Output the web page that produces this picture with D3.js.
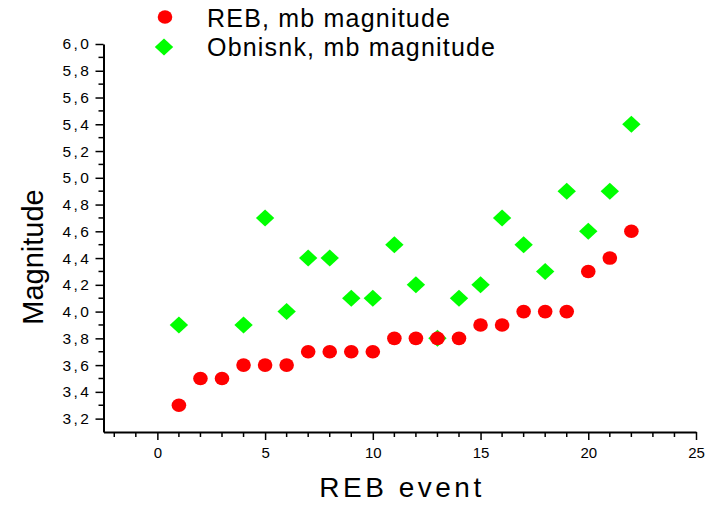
<!DOCTYPE html>
<html lang="en">
<head>
    <meta charset="UTF-8">
    <title>REB vs Obninsk magnitude</title>
    <script src="https://d3js.org/d3.v7.min.js"></script>
    <style>
        body { margin: 0; background: #fff; }
        svg text { font-family: Arial, "Liberation Sans", sans-serif; fill: #000; }
    </style>
</head>
<body>
    <svg id="chart" width="707" height="505"></svg>
    <script>
        // data
        const events = [1, 2, 3, 4, 5, 6, 7, 8, 9, 10, 11, 12, 13, 14, 15, 16, 17, 18, 19, 20, 21, 22];
        const rebMb = [3.3, 3.5, 3.5, 3.6, 3.6, 3.6, 3.7, 3.7, 3.7, 3.7, 3.8, 3.8, 3.8, 3.8, 3.9, 3.9, 4.0, 4.0, 4.0, 4.3, 4.4, 4.6];
        const obninskMb = [3.9, null, null, 3.9, 4.7, 4.0, 4.4, 4.4, 4.1, 4.1, 4.5, 4.2, 3.8, 4.1, 4.2, 4.7, 4.5, 4.3, 4.9, 4.6, 4.9, 5.4];
        const xTicks = [0, 5, 10, 15, 20, 25];
        const yTicks = [3.2, 3.4, 3.6, 3.8, 4.0, 4.2, 4.4, 4.6, 4.8, 5.0, 5.2, 5.4, 5.6, 5.8, 6.0];
        const seriesNames = ['REB, mb magnitude', 'Obnisnk, mb magnitude'];

        const svg = d3.select('#chart');
        const x = d3.scaleLinear().domain([-2.5, 25]).range([103.5, 696]);
        const y = d3.scaleLinear().domain([3.1, 6.0]).range([432, 44]);
        const fmt = d => d.toFixed(1).replace('.', ',');

        // minor ticks
        const xMinor = d3.range(-2, 26).filter(v => v % 5 !== 0);
        const yMinor = d3.range(31, 61).map(v => v / 10).filter(v => Math.round(v * 10) % 2 === 1 && v > 3.1);

        const xAxis = svg.append('g').attr('transform', 'translate(0,432)');
        xAxis.call(d3.axisBottom(x).tickValues(xTicks).tickSize(8).tickSizeOuter(0).tickPadding(7).tickFormat(d3.format('d')));
        xAxis.append('g').selectAll('line').data(xMinor).enter().append('line')
            .attr('x1', d => x(d)).attr('x2', d => x(d)).attr('y1', 0).attr('y2', 5)
            .attr('stroke', '#000').attr('stroke-width', 1.5);

        const yAxis = svg.append('g').attr('transform', 'translate(103.5,0)');
        yAxis.call(d3.axisLeft(y).tickValues(yTicks).tickSize(8).tickSizeOuter(0).tickPadding(9).tickFormat(fmt));
        yAxis.append('g').selectAll('line').data(yMinor).enter().append('line')
            .attr('y1', d => y(d)).attr('y2', d => y(d)).attr('x1', 0).attr('x2', -5)
            .attr('stroke', '#000').attr('stroke-width', 1.5);

        svg.selectAll('.domain').attr('stroke', '#000').attr('stroke-width', 2);
        svg.selectAll('.tick line').attr('stroke', '#000').attr('stroke-width', 1.5);
        xAxis.selectAll('.tick text').attr('font-size', 15);
        yAxis.selectAll('.tick text').attr('font-size', 15.5).attr('letter-spacing', 2.5).attr('dx', 5);

        // axis titles
        svg.append('text').attr('x', 402).attr('y', 497).attr('text-anchor', 'middle')
            .attr('font-size', 28).attr('letter-spacing', 3.5).text('REB event');
        svg.append('text').attr('transform', 'translate(43,257) rotate(-90)').attr('text-anchor', 'middle')
            .attr('font-size', 29).text('Magnitude');

        // series
        const diamond = (cx, cy) => `M${cx},${cy - 8.5}L${cx + 9.2},${cy}L${cx},${cy + 8.5}L${cx - 9.2},${cy}Z`;

        svg.append('g').selectAll('path').data(events.filter((e, i) => obninskMb[i] != null)).enter().append('path')
            .attr('d', e => diamond(x(e), y(obninskMb[events.indexOf(e)])))
            .attr('fill', '#00ff00');

        svg.append('g').selectAll('ellipse').data(events).enter().append('ellipse')
            .attr('cx', (e) => x(e)).attr('cy', (e, i) => y(rebMb[i]))
            .attr('rx', 7.3).attr('ry', 6.8)
            .attr('fill', '#ff0000');

        // legend
        const legend = svg.append('g');
        legend.append('ellipse').attr('cx', 165).attr('cy', 17).attr('rx', 7.3).attr('ry', 6.8).attr('fill', '#ff0000');
        legend.append('path').attr('d', diamond(164, 47)).attr('fill', '#00ff00');
        legend.selectAll('text').data(seriesNames).enter().append('text')
            .attr('x', 207).attr('y', (d, i) => 27 + i * 29)
            .attr('font-size', 25).attr('letter-spacing', 1.2).text(d => d);
    </script>
</body>
</html>
